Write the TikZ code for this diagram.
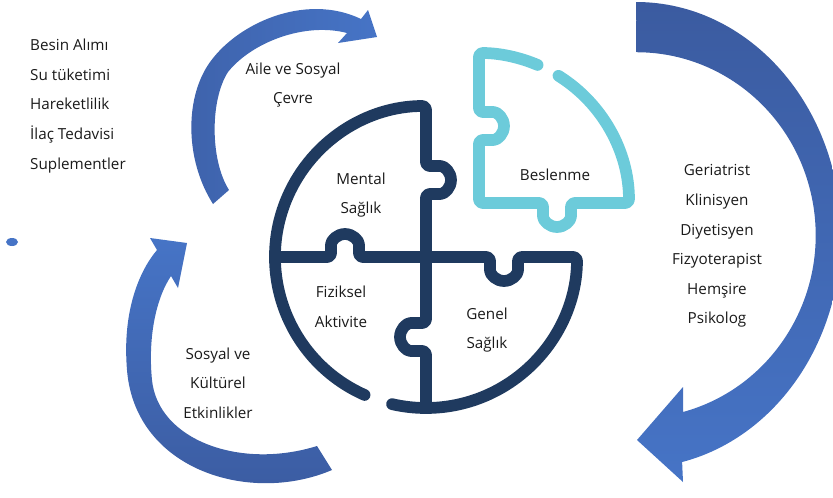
\documentclass[tikz,border=0pt]{standalone}
\usepackage{fontspec}
\setmainfont{Open Sans}
\usepackage{tikz}
\definecolor{piecenavy}{HTML}{1F3A5F}
\definecolor{piececyan}{HTML}{6CCBDA}
\definecolor{loopblue}{HTML}{4674C6}
\definecolor{loopdark}{HTML}{3B5BA0}
\definecolor{labelgray}{HTML}{1A1A1A}
\newcommand{\lblfont}{\fontsize{13}{25.2}\selectfont}

\begin{document}
\begin{tikzpicture}[
    x=0.03cm, y=-0.03cm,
    every node/.style={font=\lblfont, text=labelgray, align=center, inner sep=0pt},
    piece/.style={line width=10pt, line cap=round, line join=round, rounded corners=3pt},
    darkpiece/.style={piece, draw=piecenavy},
    lightpiece/.style={piece, draw=piececyan}
]
    \useasboundingbox (0,0) rectangle (833,497);
    \clip (0,0) rectangle (833,497);

    % curved arrows
    \shade[left color=loopdark!70!loopblue, right color=loopblue]
        (213,204) .. controls (185,160) and (185,100) .. (208,65)
        .. controls (235,24) and (305,-8) .. (361,19)
        -- (368,10) -- (377,37) -- (338,43) -- (347,33)
        .. controls (305,22) and (252,42) .. (228,72)
        .. controls (210,100) and (210,160) .. (229,190) -- cycle;
    \shade[top color=loopblue, bottom color=loopdark]
        (332,470) .. controls (250,505) and (135,470) .. (127,370)
        .. controls (122,310) and (140,270) .. (157,250)
        -- (150,238) -- (187,243) -- (178,288) -- (171,276)
        .. controls (155,300) and (148,340) .. (152,380)
        .. controls (158,440) and (240,470) .. (317,446) -- cycle;
    \shade[top color=loopdark, bottom color=loopblue]
        (636,2) arc[start angle=-90, end angle=77, x radius=205, y radius=233]
        -- (683,482) -- (637,440) -- (683,387) -- (683,412)
        arc[start angle=75, end angle=-90, x radius=179, y radius=183] -- cycle;
    \fill[loopblue] (12,242) ellipse[x radius=6, y radius=4];

    % puzzle
    \draw[darkpiece] (426,257) ++(114:151) arc[start angle=114, end angle=270, radius=151]
        -- (426,166) -- (437,166) arc[start angle=-90, end angle=90, radius=14]
        -- (426,194) -- (426,257) -- (490,257) -- (490,267)
        arc[start angle=180, end angle=0, radius=14] -- (518,257) -- (577,257)
        arc[start angle=0, end angle=103, radius=151];
    \draw[darkpiece] (275,257) -- (331,257) -- (331,248)
        arc[start angle=180, end angle=360, radius=14] -- (359,257) -- (426,257);
    \draw[darkpiece] (426,408) -- (426,351) -- (414,351)
        arc[start angle=90, end angle=270, radius=14] -- (426,323) -- (426,257);
    \draw[lightpiece] (479,203) ++(-67:150) arc[start angle=-67, end angle=-90, radius=150]
        -- (479,112) -- (490,112) arc[start angle=-90, end angle=90, radius=14]
        -- (479,140) -- (479,203) -- (543,203) -- (543,213)
        arc[start angle=180, end angle=0, radius=14] -- (571,203) -- (629,203)
        arc[start angle=0, end angle=-58, radius=150];

    \node (mental)    at (361,195) {Mental\\Sağlık};
    \node (nutrition) at (555,175) {Beslenme};
    \node (physical)  at (341,307) {Fiziksel\\Aktivite};
    \node (general)   at (487,330) {Genel\\Sağlık};

    \node (family) at (293,85)  {Aile ve Sosyal\\Çevre};
    \node (social) at (218,383) {Sosyal ve\\Kültürel\\Etkinlikler};
    \node (team)   at (717,246) {Geriatrist\\Klinisyen\\Diyetisyen\\Fizyoterapist\\Hemşire\\Psikolog};
    \node[align=left, anchor=west] (intake) at (30,106)
        {Besin Alımı\\Su tüketimi\\Hareketlilik\\İlaç Tedavisi\\Suplementler};
\end{tikzpicture}
\end{document}
